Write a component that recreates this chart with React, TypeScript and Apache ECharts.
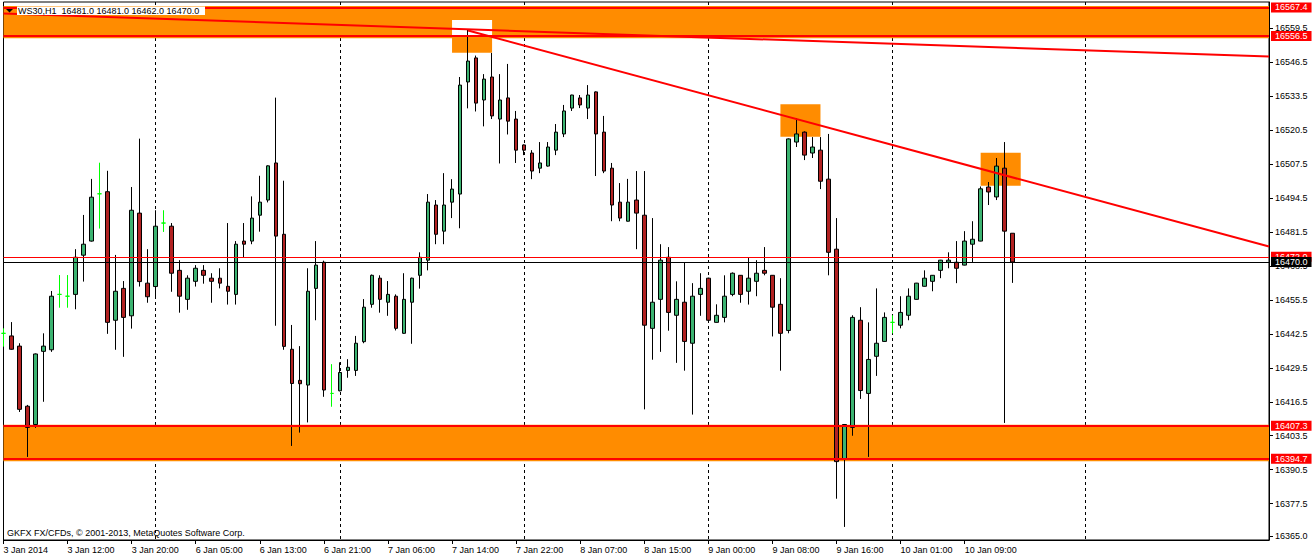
import React, { useEffect, useRef } from 'react';
import * as echarts from 'echarts';

// ---------- data ----------
const symbolName = 'WS30,H1';
const headerValues = ['16481.0', '16481.0', '16462.0', '16470.0'];
const copyright = 'GKFX FX/CFDs, \u00a9 2001-2013, MetaQuotes Software Corp.';

const tickLabels = [
  '3 Jan 2014', '3 Jan 12:00', '3 Jan 20:00', '6 Jan 05:00', '6 Jan 13:00', '6 Jan 21:00',
  '7 Jan 06:00', '7 Jan 14:00', '7 Jan 22:00', '8 Jan 07:00', '8 Jan 15:00', '9 Jan 00:00',
  '9 Jan 08:00', '9 Jan 16:00', '10 Jan 01:00', '10 Jan 09:00',
];
const barsPerTick = 8;
const totalSlots = 159;
const gridLineBars = [19, 42, 65, 88, 111, 135];

const yTickValues = [
  16365.0, 16377.5, 16390.5, 16403.5, 16416.5, 16429.5, 16442.5, 16455.5, 16468.5,
  16481.5, 16494.5, 16507.5, 16520.5, 16533.5, 16546.5, 16559.5,
];

const opens = [
  16442.7, 16441.7, 16437.8, 16414.8, 16407.8, 16435.8, 16436.4, 16457.6, 16456.9, 16457.6,
  16472.6, 16478.0, 16496.1, 16496.9, 16447.7, 16459.9, 16449.4, 16488.7, 16461.9, 16460.6,
  16484.9, 16483.7, 16466.8, 16455.7, 16462.6, 16466.8, 16463.8, 16463.8, 16460.7, 16457.6,
  16478.0, 16478.0, 16487.9, 16493.7, 16507.9, 16480.6, 16436.6, 16424.7, 16422.9, 16459.9,
  16469.9, 16419.7, 16420.7, 16428.5, 16428.5, 16439.5, 16453.8, 16463.8, 16454.6, 16456.9,
  16442.7, 16454.6, 16464.9, 16470.7, 16491.8, 16481.8, 16492.9, 16496.0, 16538.9, 16548.1,
  16532.0, 16540.8, 16524.7, 16532.8, 16524.7, 16514.8, 16511.7, 16505.9, 16506.7, 16512.8,
  16519.0, 16528.9, 16532.8, 16528.9, 16535.1, 16519.7, 16505.9, 16492.9, 16485.6, 16493.7,
  16487.9, 16444.6, 16455.7, 16471.8, 16449.6, 16454.6, 16438.9, 16457.6, 16463.8, 16446.9,
  16448.8, 16457.6, 16464.9, 16458.8, 16462.6, 16466.8, 16464.9, 16453.8, 16443.8, 16515.9,
  16519.7, 16511.7, 16512.8, 16501.7, 16474.9, 16394.6, 16406.7, 16447.7, 16419.7, 16433.9,
  16439.6, 16446.9, 16445.8, 16449.6, 16455.7, 16460.7, 16462.6, 16466.8, 16469.9, 16469.9,
  16468.8, 16476.8, 16478.0, 16498.7, 16494.9, 16505.9, 16481.0,
];
const highs = [
  16444.6, 16447.0, 16438.9, 16415.3, 16435.0, 16442.7, 16458.9, 16465.0, 16465.0, 16474.9,
  16488.0, 16501.8, 16508.0, 16504.9, 16472.7, 16462.7, 16498.7, 16517.2, 16474.9, 16489.8,
  16489.8, 16484.9, 16470.7, 16464.9, 16468.8, 16468.8, 16465.7, 16467.6, 16484.9, 16478.0,
  16484.9, 16495.1, 16503.0, 16507.0, 16532.9, 16501.1, 16445.9, 16437.8, 16467.6, 16478.0,
  16470.5, 16430.9, 16431.6, 16432.8, 16441.7, 16455.8, 16465.2, 16464.9, 16462.7, 16457.6,
  16465.7, 16464.0, 16473.7, 16496.0, 16493.7, 16504.0, 16501.7, 16540.8, 16558.9, 16549.0,
  16541.9, 16550.0, 16541.9, 16545.8, 16527.8, 16515.0, 16512.8, 16515.9, 16515.9, 16522.8,
  16530.1, 16534.0, 16533.9, 16537.7, 16535.3, 16525.9, 16507.9, 16500.2, 16501.8, 16504.8,
  16504.8, 16486.8, 16476.8, 16475.7, 16462.6, 16469.9, 16461.9, 16465.7, 16464.0, 16453.8,
  16464.9, 16466.0, 16465.0, 16471.8, 16470.7, 16475.7, 16465.0, 16463.8, 16517.3, 16525.1,
  16520.0, 16517.8, 16517.8, 16519.0, 16486.8, 16408.0, 16449.6, 16452.7, 16446.9, 16459.9,
  16450.7, 16449.6, 16456.9, 16459.9, 16462.0, 16466.8, 16465.0, 16470.8, 16473.7, 16478.0,
  16481.8, 16485.6, 16498.9, 16500.6, 16509.8, 16515.9, 16481.0,
];
const lows = [
  16437.6, 16436.4, 16412.6, 16395.4, 16406.5, 16416.5, 16435.6, 16452.5, 16452.5, 16451.9,
  16462.5, 16477.8, 16482.8, 16442.5, 16436.4, 16433.7, 16444.5, 16460.6, 16454.4, 16456.0,
  16481.5, 16458.6, 16450.6, 16451.7, 16460.6, 16461.7, 16454.4, 16459.9, 16453.7, 16453.7,
  16471.8, 16476.8, 16481.6, 16492.8, 16445.6, 16436.4, 16399.6, 16404.7, 16408.6, 16447.7,
  16418.4, 16414.6, 16420.5, 16425.7, 16426.4, 16438.9, 16452.5, 16450.6, 16449.4, 16443.8,
  16442.5, 16438.7, 16459.8, 16466.8, 16476.8, 16476.8, 16486.8, 16482.9, 16528.8, 16527.6,
  16521.9, 16524.7, 16507.7, 16518.8, 16507.9, 16510.9, 16501.7, 16504.0, 16506.5, 16510.9,
  16517.8, 16527.8, 16528.9, 16524.7, 16502.9, 16504.0, 16485.6, 16485.6, 16485.5, 16474.9,
  16413.6, 16432.6, 16435.6, 16443.7, 16431.4, 16428.4, 16411.6, 16449.4, 16446.9, 16446.8,
  16446.9, 16456.9, 16454.4, 16453.7, 16456.9, 16464.9, 16441.5, 16428.4, 16442.7, 16514.0,
  16509.0, 16509.8, 16497.9, 16464.9, 16379.4, 16368.6, 16403.5, 16417.6, 16395.4, 16426.4,
  16439.5, 16442.7, 16444.6, 16447.7, 16455.6, 16460.6, 16458.8, 16463.8, 16467.6, 16461.9,
  16468.7, 16469.9, 16477.9, 16491.8, 16493.7, 16408.4, 16462.0,
];
const closes = [
  16442.7, 16436.6, 16413.6, 16406.7, 16434.8, 16437.8, 16456.9, 16457.6, 16456.9, 16471.8,
  16476.8, 16494.8, 16496.1, 16446.9, 16458.8, 16448.8, 16489.8, 16462.5, 16456.7, 16483.7,
  16484.9, 16465.7, 16456.9, 16463.8, 16467.6, 16464.9, 16462.6, 16461.9, 16458.8, 16476.8,
  16476.8, 16486.8, 16492.9, 16506.8, 16479.9, 16437.7, 16423.5, 16423.4, 16458.8, 16468.8,
  16421.0, 16419.7, 16427.7, 16429.7, 16438.9, 16452.7, 16464.9, 16455.7, 16457.6, 16444.6,
  16455.7, 16463.8, 16471.8, 16492.9, 16480.6, 16491.8, 16497.9, 16537.7, 16546.9, 16530.8,
  16540.0, 16525.9, 16532.0, 16523.9, 16512.8, 16512.8, 16504.8, 16507.9, 16514.0, 16519.7,
  16527.8, 16533.9, 16530.1, 16533.9, 16519.0, 16504.8, 16491.8, 16486.8, 16492.9, 16488.7,
  16445.8, 16454.6, 16470.7, 16450.7, 16455.7, 16439.6, 16456.9, 16459.9, 16447.7, 16449.6,
  16456.9, 16465.7, 16457.6, 16463.8, 16465.7, 16465.7, 16452.7, 16442.7, 16517.1, 16519.0,
  16510.9, 16514.0, 16500.9, 16473.7, 16393.6, 16407.8, 16448.8, 16420.8, 16432.7, 16438.9,
  16448.8, 16446.9, 16450.7, 16456.9, 16461.9, 16463.8, 16464.9, 16470.7, 16470.7, 16467.6,
  16478.0, 16478.7, 16498.0, 16496.8, 16506.7, 16481.8, 16470.0,
];

// chart objects (price levels / zones / trend lines / boxes)
const topZone = [16568.0, 16555.6];
const bottomZone = [16407.7, 16393.7];
const topLevels = [16567.4, 16556.5];
const bottomLevels = [16407.3, 16394.7];
const askPrice = 16472.0;
const bidPrice = 16470.0;
const trendDown = [[58, 16558.6], [158, 16475.9]];
const trendFlat = [[0, 16565.1], [158, 16548.6]];
const boxes = [
  { from: 56, to: 61, hi: 16562.6, lo: 16550.1 },
  { from: 97, to: 102, hi: 16530.4, lo: 16517.9 },
  { from: 122, to: 127, hi: 16511.8, lo: 16499.2 },
];

const FONT = "'Liberation Sans', Arial, sans-serif";
const ORANGE = '#ff8c00';
const RED = '#ff0000';

export default function App() {
  const ref = useRef<HTMLDivElement>(null);

  useEffect(() => {
    if (!ref.current) return;
    const chart = echarts.init(ref.current, null, { renderer: 'svg' });

    const categories = Array.from({ length: totalSlots }, (_, i) => 'bar' + i);
    const candleData = opens.map((o, i) => [o, closes[i], lows[i], highs[i]]);
    const isLabeled = (i: number) => i % barsPerTick === 0 && i / barsPerTick < tickLabels.length;

    const priceTag = (bg: string) => ({
      show: true,
      position: 'end',
      distance: 2,
      formatter: (p: any) => Number(p.value).toFixed(1),
      color: '#ffffff',
      backgroundColor: bg,
      padding: [1, 4, 0, 4],
      fontSize: 9,
      lineHeight: 9,
      fontFamily: FONT,
    });

    const areaData: any[] = [
      [{ yAxis: topZone[0], itemStyle: { color: ORANGE, opacity: 1 } }, { yAxis: topZone[1] }],
      [{ yAxis: bottomZone[0], itemStyle: { color: ORANGE, opacity: 1 } }, { yAxis: bottomZone[1] }],
    ];
    boxes.forEach((b, k) => {
      if (k === 0) {
        // overlap with the top zone renders inverted (white)
        areaData.push([
          { coord: [b.from, b.hi], itemStyle: { color: '#ffffff', opacity: 1 } },
          { coord: [b.to, topLevels[1]] },
        ]);
        areaData.push([
          { coord: [b.from, topLevels[1]], itemStyle: { color: ORANGE, opacity: 1 } },
          { coord: [b.to, b.lo] },
        ]);
      } else {
        areaData.push([
          { coord: [b.from, b.hi], itemStyle: { color: ORANGE, opacity: 1 } },
          { coord: [b.to, b.lo] },
        ]);
      }
    });

    const lineData: any[] = [
      [{ coord: trendFlat[0] }, { coord: trendFlat[1] }],
      [{ coord: trendDown[0] }, { coord: trendDown[1] }],
      { yAxis: topLevels[0], label: priceTag(RED) },
      { yAxis: topLevels[1], label: priceTag(RED) },
      { yAxis: bottomLevels[0], label: priceTag(RED) },
      { yAxis: bottomLevels[1], label: priceTag(RED) },
      { yAxis: askPrice, lineStyle: { color: RED, width: 1 }, label: priceTag(RED) },
      { yAxis: bidPrice, lineStyle: { color: '#000000', width: 1 }, label: priceTag('#000000') },
    ];

    const header = symbolName + '  ' + headerValues.join(' ');

    chart.setOption({
      animation: false,
      backgroundColor: '#ffffff',
      grid: {
        left: 3.5,
        right: 43,
        top: 2,
        bottom: 18,
        show: true,
        borderColor: '#000000',
        borderWidth: 1,
        backgroundColor: 'transparent',
      },
      xAxis: {
        type: 'category',
        data: categories,
        boundaryGap: false,
        axisLine: { show: true, lineStyle: { color: '#000000', width: 1 } },
        axisTick: {
          show: true,
          interval: (i: number) => isLabeled(i),
          length: 4,
          lineStyle: { color: '#000000' },
        },
        axisLabel: {
          interval: (i: number) => isLabeled(i),
          formatter: (_v: string, i: number) => (isLabeled(i) ? tickLabels[i / barsPerTick] : ''),
          align: 'left',
          margin: 5,
          fontSize: 9,
          fontFamily: FONT,
          color: '#000000',
        },
        splitLine: {
          show: true,
          interval: (i: number) => gridLineBars.includes(i),
          lineStyle: { color: '#000000', width: 1, type: [3, 3] },
        },
      },
      yAxis: {
        type: 'value',
        position: 'right',
        min: 16363.6,
        max: 16569.5,
        axisLine: { show: true, lineStyle: { color: '#000000', width: 1 } },
        axisTick: { show: true, length: 4, customValues: yTickValues, lineStyle: { color: '#000000' } },
        axisLabel: {
          customValues: yTickValues,
          formatter: (v: number) => Number(v).toFixed(1),
          margin: 6,
          fontSize: 9,
          fontFamily: FONT,
          color: '#000000',
        },
        splitLine: { show: false },
      },
      series: [
        {
          type: 'candlestick',
          data: candleData,
          barWidth: 4,
          emphasis: { disabled: true },
          itemStyle: {
            color: '#3cb371',
            color0: '#b22222',
            borderColor: '#000000',
            borderColor0: '#000000',
            borderColorDoji: '#00ff00',
            borderWidth: 1,
          },
          markArea: { silent: true, data: areaData },
          markLine: {
            silent: true,
            symbol: ['none', 'none'],
            label: { show: false },
            lineStyle: { color: RED, width: 2, type: 'solid' },
            data: lineData,
          },
        },
      ],
      graphic: [
        {
          type: 'rect',
          z: 100,
          shape: { x: 17, y: 6.5, width: 188, height: 8.5 },
          style: { fill: '#ffffff' },
        },
        {
          type: 'polygon',
          z: 101,
          shape: { points: [[6, 9], [13, 9], [9.5, 12.5]] },
          style: { fill: '#000000' },
        },
        {
          type: 'text',
          z: 101,
          x: 18,
          y: 10.7,
          style: {
            text: header,
            fontSize: 9,
            fontFamily: FONT,
            fill: '#000000',
            verticalAlign: 'middle',
          },
        },
        {
          type: 'text',
          z: 101,
          x: 7,
          y: 532.5,
          style: {
            text: copyright,
            fontSize: 9,
            fontFamily: FONT,
            fill: '#000000',
            verticalAlign: 'middle',
          },
        },
      ],
    });

    return () => chart.dispose();
  }, []);

  return (
    <div
      ref={ref}
      style={{ position: 'absolute', left: 0, top: 0, width: 1312, height: 558, background: '#ffffff' }}
    />
  );
}
